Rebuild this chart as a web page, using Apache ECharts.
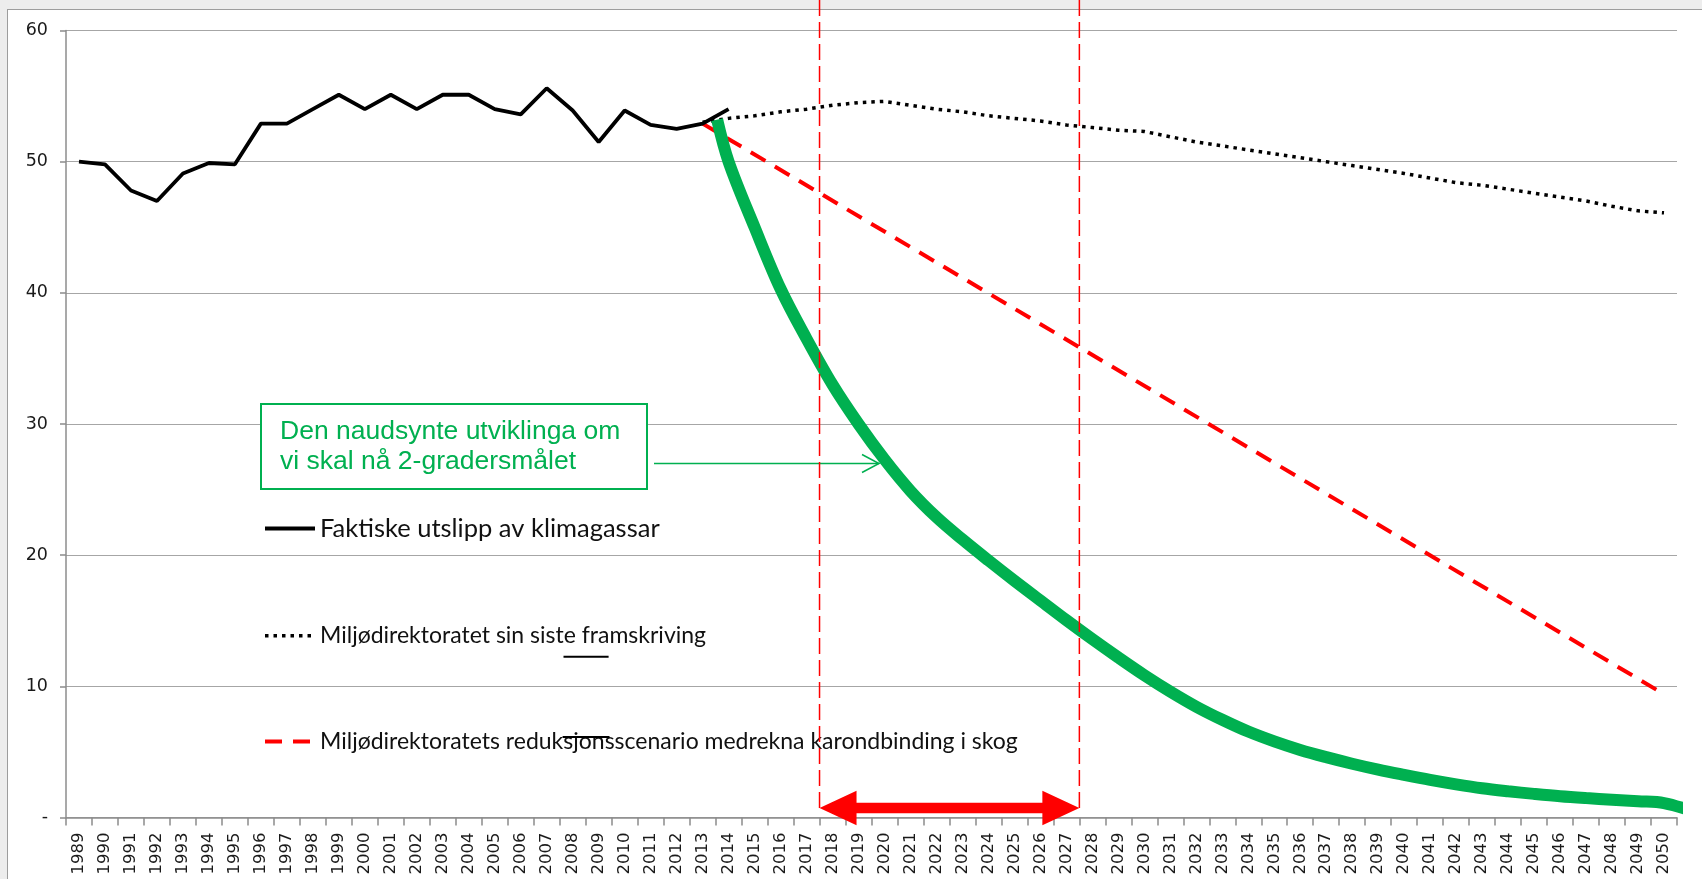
<!DOCTYPE html>
<html><head><meta charset="utf-8">
<script src="https://cdn.jsdelivr.net/npm/echarts@6/dist/echarts.min.js"></script>
<style>
html,body{margin:0;padding:0;background:#ededed;overflow:hidden;}
#frame{position:absolute;left:7px;top:9px;width:1720px;height:900px;background:#fff;border:1px solid #9d9d9d;}
#c{position:absolute;left:0;top:0;width:1702px;height:879px;}
</style>
</head><body><div id="frame"></div><div id="c"></div>
<script>
// ---- categories / tick labels ----
const yearLabels = ['1989','1990','1991','1992','1993','1994','1995','1996','1997','1998','1999','2000','2001','2002','2003','2004','2005','2006','2007','2008','2009','2010','2011','2012','2013','2014','2015','2016','2017','2018','2019','2020','2021','2022','2023','2024','2025','2026','2027','2028','2029','2030','2031','2032','2033','2034','2035','2036','2037','2038','2039','2040','2041','2042','2043','2044','2045','2046','2047','2048','2049','2050'];
const yTicks = [0, 10, 20, 30, 40, 50, 60];

// ---- series names ----
const nameActual = 'Faktiske utslipp av klimagassar';
const nameProj = 'Miljødirektoratet sin siste framskriving';
const nameRed = 'Miljødirektoratets reduksjonsscenario medrekna karondbinding i skog';
const nameGreen = 'Den naudsynte utviklinga om vi skal nå 2-gradersmålet';

// ---- actual emissions ----
const actualYears = [1989,1990,1991,1992,1993,1994,1995,1996,1997,1998,1999,2000,2001,2002,2003,2004,2005,2006,2007,2008,2009,2010,2011,2012,2013,2014];
const actualValues = [50.0,49.8,47.8,47.0,49.1,49.9,49.8,52.9,52.9,54.0,55.1,54.0,55.1,54.0,55.1,55.1,54.0,53.6,55.6,53.9,51.5,53.9,52.8,52.5,52.9,54.0];

// ---- projection (dotted) ----
const projYears = [2013,2014,2015,2016,2017,2018,2019,2020,2021,2022,2023,2024,2025,2026,2027,2028,2029,2030,2031,2032,2033,2034,2035,2036,2037,2038,2039,2040,2041,2042,2043,2044,2045,2046,2047,2048,2049,2050];
const projValues = [53.0,53.3,53.5,53.8,54.0,54.3,54.5,54.6,54.3,54.0,53.8,53.5,53.3,53.1,52.8,52.6,52.4,52.3,51.9,51.5,51.2,50.9,50.6,50.3,50.0,49.7,49.4,49.1,48.75,48.4,48.2,47.9,47.6,47.3,47.0,46.6,46.25,46.1];

// ---- reduction scenario (dashed red, straight) ----
const redYears = [2013, 2050];
const redValues = [52.9, 9.4];

// ---- necessary path (green) ----
const greenYears = [2013.56,2014,2015,2016,2017,2018,2019,2020,2021,2022,2023,2024,2025,2026,2027,2028,2029,2030,2031,2032,2033,2034,2035,2036,2037,2038,2039,2040,2041,2042,2043,2044,2045,2046,2047,2048,2049,2050,2051.3];
const greenValues = [53.2,50.0,45.0,40.3,36.5,33.0,30.0,27.3,24.9,22.9,21.2,19.6,18.05,16.55,15.05,13.6,12.2,10.85,9.6,8.45,7.45,6.55,5.8,5.15,4.6,4.1,3.65,3.25,2.87,2.53,2.23,2.0,1.8,1.62,1.48,1.36,1.24,1.1,0.35];

// ---- period markers ----
const periodBounds = [2017.5, 2027.5];
const periodArrowLevel = 0.72;

function zip(xs, ys){ return xs.map((x,i)=>[x, ys[i]]); }

const chart = echarts.init(document.getElementById('c'), null, {renderer:'canvas'});
const option = {
  animation: false,
  backgroundColor: 'transparent',
  grid: {left: 66, right: 25, top: 30.5, bottom: 61.5, containLabel: false, outerBoundsMode: 'none'},
  xAxis: [
    {type:'category', data: yearLabels, boundaryGap: true, position:'bottom',
     axisLine:{lineStyle:{color:'#8c8c8c', width:1.5}},
     axisTick:{show:true, interval:0, length:8, lineStyle:{color:'#8c8c8c', width:1.5}},
     axisLabel:{interval:0, rotate:90, margin:15, fontFamily:'DejaVu Sans', fontSize:16.5, color:'#1a1a1a'},
     splitLine:{show:false}},
    {type:'value', min:1988.5, max:2050.5, show:false, splitLine:{show:false}}
  ],
  yAxis: {type:'value', min:yTicks[0], max:yTicks[yTicks.length-1], interval:10,
    axisLine:{show:true, lineStyle:{color:'#8c8c8c', width:1.5}},
    axisTick:{show:true, length:6, lineStyle:{color:'#8c8c8c', width:1.5}},
    axisLabel:{margin:18, fontFamily:'DejaVu Sans', fontSize:17.5, color:'#1a1a1a',
      formatter: v => v === 0 ? '-' : String(v)},
    splitLine:{lineStyle:{color:'#a6a6a6', width:1.2}}},
  legend: {
    orient:'vertical', left:263, top:515.5, padding:0, itemWidth:50, itemHeight:14, itemGap:82.7,
    selectedMode:false, itemStyle:{opacity:0},
    textStyle:{fontFamily:'Lato', fontSize:23, color:'#111'},
    data:[
      {name:nameActual, lineStyle:{width:4}, textStyle:{fontSize:25.5}},
      {name:nameProj, lineStyle:{width:3.5}},
      {name:nameRed, lineStyle:{width:4}}
    ]
  },
  series: [
    {name:nameProj, type:'line', xAxisIndex:1, data: zip(projYears, projValues), symbol:'none', z:2,
     itemStyle:{color:'#000'}, lineStyle:{color:'#000', width:3.5, type:[3.5,5], cap:'butt'}},
    {name:nameRed, type:'line', xAxisIndex:1, data: zip(redYears, redValues), symbol:'none', z:3,
     itemStyle:{color:'#ff0000'}, lineStyle:{color:'#ff0000', width:4, type:[17,11], cap:'butt'}},
    {name:nameGreen, type:'line', xAxisIndex:1, data: zip(greenYears, greenValues), symbol:'none', z:4,
     smooth:0.35, clip:false, itemStyle:{color:'#00b050'}, lineStyle:{color:'#00b050', width:12, cap:'butt'}},
    {name:nameActual, type:'line', xAxisIndex:1, data: zip(actualYears, actualValues), symbol:'none', z:5,
     itemStyle:{color:'#000'}, lineStyle:{color:'#000', width:3.8}}
  ]
};
chart.setOption(option);

const xL = chart.convertToPixel({xAxisIndex:1}, periodBounds[0]);
const xR = chart.convertToPixel({xAxisIndex:1}, periodBounds[1]);
const yA = chart.convertToPixel({yAxisIndex:0}, periodArrowLevel);
const headL = 37, headH = 17.2, shaftH = 5.3;

chart.setOption({
  graphic: [
    // annotation box
    {type:'rect', z:50, shape:{x:261, y:404, width:386, height:85}, style:{fill:'#fff', stroke:'#00b050', lineWidth:2}},
    {type:'text', z:51, x:280, y:432, style:{text:'Den naudsynte utviklinga om', fill:'#00b050', fontSize:26.5, fontFamily:'Liberation Sans', verticalAlign:'middle'}},
    {type:'text', z:51, x:280, y:462, style:{text:'vi skal nå 2-gradersmålet', fill:'#00b050', fontSize:26.5, fontFamily:'Liberation Sans', verticalAlign:'middle'}},
    {type:'polyline', z:51, shape:{points:[[654,463.5],[879,463.5]]}, style:{stroke:'#00b050', lineWidth:1.5, fill:null}},
    {type:'polyline', z:51, shape:{points:[[862,454.5],[879,463.5],[862,472.5]]}, style:{stroke:'#00b050', lineWidth:1.5, fill:null}},
    // legend artefacts
    {type:'line', z:52, shape:{x1:563.5, y1:656.7, x2:608.6, y2:656.7}, style:{stroke:'#000', lineWidth:2}},
    {type:'line', z:52, shape:{x1:562.6, y1:737, x2:609.5, y2:737}, style:{stroke:'#000', lineWidth:2}},
    // period vertical lines
    {type:'line', z:60, shape:{x1:xL, y1:0, x2:xL, y2:yA}, style:{stroke:'#ff0000', lineWidth:1.5, lineDash:[16,6]}},
    {type:'line', z:60, shape:{x1:xR, y1:0, x2:xR, y2:yA}, style:{stroke:'#ff0000', lineWidth:1.5, lineDash:[16,6]}},
    // double arrow
    {type:'polygon', z:61, shape:{points:[
      [xL, yA],[xL+headL, yA-headH],[xL+headL, yA-shaftH],[xR-headL, yA-shaftH],[xR-headL, yA-headH],
      [xR, yA],[xR-headL, yA+headH],[xR-headL, yA+shaftH],[xL+headL, yA+shaftH],[xL+headL, yA+headH]
    ]}, style:{fill:'#ff0000'}}
  ]
});
</script>
</body></html>
